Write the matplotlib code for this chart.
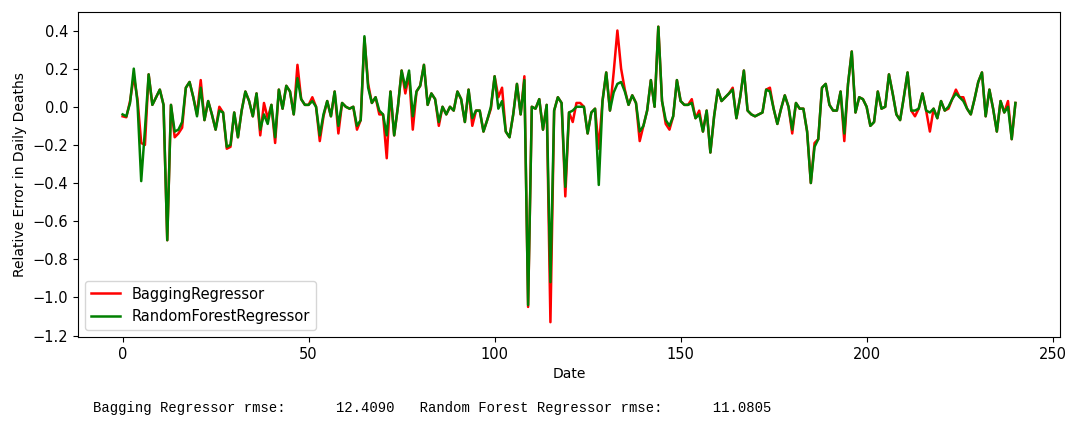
import numpy as np
import matplotlib
matplotlib.use("Agg")
import matplotlib.pyplot as plt

# relative error per day
bagging = [
    -0.05, -0.055, 0.03, 0.16, 0.04, -0.19, -0.20, 0.17, 0.01, 0.05,
    0.09, 0.01, -0.70, 0.01, -0.16, -0.14, -0.11, 0.10, 0.13, 0.05,
    -0.04, 0.14, -0.07, 0.03, -0.04, -0.12, 0.00, -0.03, -0.22, -0.21,
    -0.03, -0.16, -0.02, 0.08, 0.03, -0.05, 0.07, -0.15, 0.02, -0.06,
    0.01, -0.19, 0.09, -0.01, 0.11, 0.08, -0.04, 0.22, 0.04, 0.01,
    0.01, 0.05, 0.00, -0.18, -0.05, 0.03, -0.05, 0.08, -0.14, 0.02,
    0.00, -0.01, 0.00, -0.12, -0.07, 0.36, 0.12, 0.02, 0.05, -0.04,
    -0.04, -0.27, 0.08, -0.15, 0.00, 0.19, 0.07, 0.17, -0.12, 0.08,
    0.11, 0.22, 0.01, 0.07, 0.04, -0.10, 0.00, -0.04, 0.00, -0.02,
    0.08, 0.04, -0.08, 0.09, -0.10, -0.02, -0.02, -0.13, -0.07, -0.01,
    0.16, 0.05, 0.10, -0.13, -0.16, -0.04, 0.12, -0.04, 0.16, -1.05,
    0.00, -0.01, 0.04, -0.12, 0.01, -1.13, -0.02, 0.05, 0.02, -0.47,
    -0.03, -0.08, 0.02, 0.02, 0.00, -0.14, -0.03, -0.01, -0.22, 0.03,
    0.18, -0.02, 0.18, 0.40, 0.20, 0.09, 0.01, 0.06, 0.02, -0.18,
    -0.10, -0.02, 0.14, 0.00, 0.42, 0.03, -0.09, -0.12, -0.05, 0.14,
    0.03, 0.01, 0.01, 0.04, -0.06, -0.02, -0.13, -0.02, -0.24, -0.05,
    0.09, 0.03, 0.05, 0.07, 0.10, -0.06, 0.05, 0.19, -0.02, -0.04,
    -0.05, -0.04, -0.03, 0.09, 0.10, -0.01, -0.09, -0.01, 0.06, 0.00,
    -0.14, 0.02, -0.01, -0.01, -0.13, -0.40, -0.19, -0.17, 0.10, 0.12,
    0.01, -0.02, -0.02, 0.08, -0.18, 0.12, 0.29, -0.03, 0.05, 0.04,
    0.00, -0.10, -0.08, 0.08, -0.01, 0.00, 0.17, 0.07, -0.04, -0.07,
    0.05, 0.18, -0.02, -0.05, -0.01, 0.07, -0.02, -0.13, -0.01, -0.06,
    0.03, -0.02, -0.01, 0.04, 0.09, 0.05, 0.05, -0.01, -0.04, 0.04,
    0.13, 0.18, -0.05, 0.09, -0.01, -0.13, 0.03, -0.03, 0.03, -0.17,
    0.02,
]
random_forest = [
    -0.04, -0.05, 0.02, 0.20, 0.02, -0.39, -0.12, 0.17, 0.01, 0.05,
    0.09, 0.01, -0.70, 0.01, -0.13, -0.12, -0.08, 0.10, 0.13, 0.05,
    -0.05, 0.10, -0.07, 0.03, -0.04, -0.12, -0.02, -0.03, -0.21, -0.20,
    -0.03, -0.16, -0.02, 0.08, 0.03, -0.05, 0.07, -0.12, -0.04, -0.09,
    0.01, -0.16, 0.09, -0.01, 0.11, 0.08, -0.04, 0.15, 0.04, 0.01,
    0.01, 0.03, 0.00, -0.15, -0.04, 0.03, -0.05, 0.08, -0.10, 0.02,
    0.00, -0.01, 0.00, -0.10, -0.07, 0.37, 0.10, 0.02, 0.05, -0.02,
    -0.04, -0.15, 0.08, -0.15, 0.00, 0.19, 0.10, 0.19, -0.05, 0.08,
    0.11, 0.22, 0.01, 0.07, 0.04, -0.08, 0.00, -0.04, 0.00, -0.02,
    0.08, 0.04, -0.08, 0.09, -0.06, -0.02, -0.02, -0.13, -0.07, 0.00,
    0.16, -0.01, 0.03, -0.13, -0.16, -0.04, 0.12, -0.04, 0.14, -1.04,
    0.00, -0.01, 0.04, -0.12, 0.01, -0.92, -0.02, 0.05, 0.02, -0.42,
    -0.03, -0.02, 0.00, 0.00, 0.00, -0.14, -0.03, -0.01, -0.41, 0.03,
    0.18, -0.02, 0.075, 0.12, 0.13, 0.08, 0.01, 0.06, 0.02, -0.13,
    -0.10, -0.02, 0.14, 0.00, 0.42, 0.03, -0.07, -0.10, -0.05, 0.14,
    0.03, 0.01, 0.01, 0.02, -0.06, -0.04, -0.13, -0.02, -0.24, -0.05,
    0.09, 0.03, 0.05, 0.07, 0.09, -0.06, 0.05, 0.19, -0.02, -0.04,
    -0.05, -0.04, -0.03, 0.09, 0.08, -0.01, -0.09, -0.01, 0.06, 0.00,
    -0.12, 0.02, -0.01, -0.01, -0.13, -0.40, -0.21, -0.17, 0.10, 0.12,
    0.01, -0.02, -0.02, 0.08, -0.14, 0.12, 0.29, -0.03, 0.05, 0.04,
    0.00, -0.10, -0.08, 0.08, -0.01, 0.00, 0.17, 0.07, -0.04, -0.07,
    0.05, 0.18, -0.02, -0.02, -0.01, 0.07, -0.02, -0.03, -0.01, -0.06,
    0.03, -0.02, 0.00, 0.04, 0.07, 0.05, 0.03, -0.01, -0.04, 0.04,
    0.13, 0.18, -0.05, 0.09, -0.01, -0.13, 0.03, -0.03, 0.00, -0.17,
    0.02,
]
rmse_bagging = 12.4090
rmse_forest = 11.0805

plt.rcParams['font.size'] = 10
fig = plt.figure(figsize=(10.71, 4.26), dpi=100)
ax = fig.add_axes([0.0728, 0.209, 0.917, 0.763])

ax.plot(range(len(bagging)), bagging, color='red', lw=1.8, label='BaggingRegressor')
ax.plot(range(len(random_forest)), random_forest, color='green', lw=1.8,
        label='RandomForestRegressor')
ax.set_xlabel('Date')
ax.set_ylabel('Relative Error in Daily Deaths')
ax.tick_params(labelsize=10.5)
ax.legend(loc='lower left', fontsize=10.5)

# printed notebook output under the chart
fig.text(0.087, 0.033,
         'Bagging Regressor rmse: %12.4f   Random Forest Regressor rmse: %12.4f'
         % (rmse_bagging, rmse_forest),
         family='Liberation Mono', fontsize=10)

fig.savefig('out.png', dpi=100)
